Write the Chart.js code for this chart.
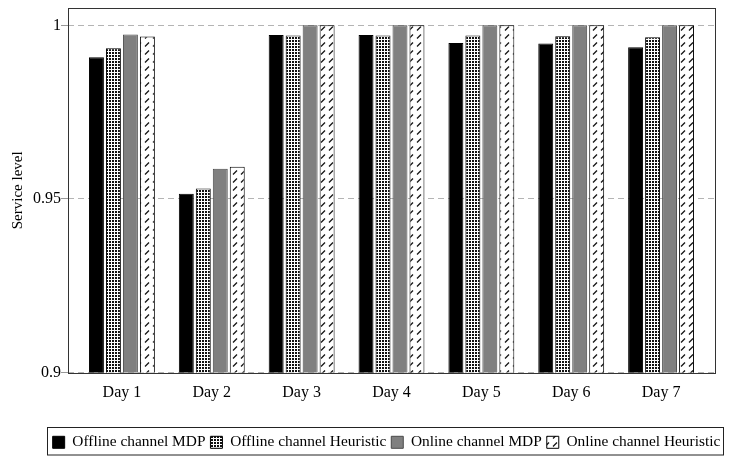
<!DOCTYPE html>
<html lang="en">
<head>
  <meta charset="UTF-8">
  <title>Service level</title>
  <style>
    html, body { margin: 0; padding: 0; background: #fff; }
    .grafico { width: 729px; height: 456px; }
  </style>
</head>
<body>
  <div class="grafico">
    <canvas id="myChart"></canvas>
  </div>
  <script src="https://cdn.jsdelivr.net/npm/chart.js"></script>
  <script>
    // data
    var dias = ['Day 1', 'Day 2', 'Day 3', 'Day 4', 'Day 5', 'Day 6', 'Day 7'];
    var offlineMDP = [0.9908, 0.9515, 0.9972, 0.9972, 0.9949, 0.9948, 0.9937];
    var offlineHeur = [0.9934, 0.9530, 0.9971, 0.9971, 0.9971, 0.9969, 0.9966];
    var onlineMDP = [0.9974, 0.9587, 1.0, 1.0, 1.0, 1.0, 1.0];
    var onlineHeur = [0.9968, 0.9593, 1.0, 1.0, 1.0, 1.0, 1.0];
    var yTicks = [0.9, 0.95, 1];

    function pontos(valores) {
      return valores.map(function (v, i) { return { x: i + 1, y: v }; });
    }

    // patterns
    function pontilhado() {
      var c = document.createElement('canvas');
      c.width = 3; c.height = 3;
      var g = c.getContext('2d');
      g.fillStyle = '#fff';
      g.fillRect(0, 0, 3, 3);
      g.fillStyle = '#111';
      g.fillRect(1, 1, 2, 2);
      return g.createPattern(c, 'repeat');
    }
    function listrado() {
      var c = document.createElement('canvas');
      c.width = 8; c.height = 8;
      var g = c.getContext('2d');
      g.fillStyle = '#fff';
      g.fillRect(0, 0, 8, 8);
      g.strokeStyle = '#111';
      g.lineWidth = 1.3;
      g.beginPath();
      g.moveTo(1, 6.5);
      g.lineTo(5, 2.5);
      g.stroke();
      return g.createPattern(c, 'repeat');
    }

    var serif = 'Liberation Serif';

    var molduras = {
      id: 'molduras',
      afterLayout: function (chart) {
        var lg = chart.legend;
        lg.left += 29;
        lg.right += 29;
        lg.top += 4;
        lg.bottom += 4;
      },
      afterDraw: function (chart) {
        var ctx = chart.ctx;
        var a = chart.chartArea;
        ctx.save();
        ctx.strokeStyle = '#333';
        ctx.lineWidth = 1;
        ctx.strokeRect(Math.round(a.left) + 0.5, Math.round(a.top) + 0.5,
          Math.round(a.right - a.left), Math.round(a.bottom - a.top));
        var boxes = chart.legend.legendHitBoxes;
        if (boxes && boxes.length) {
          var l = boxes[0].left, r = boxes[0].left + boxes[0].width;
          boxes.forEach(function (b) {
            l = Math.min(l, b.left);
            r = Math.max(r, b.left + b.width);
          });
          var topo = Math.round(chart.legend.top) - 2.5;
          ctx.strokeStyle = '#222';
          ctx.strokeRect(Math.round(l) - 5.5, topo, Math.round(r - l) + 8, 455 - topo);
        }
        ctx.restore();
      }
    };

    var ctx = document.getElementById('myChart');
    new Chart(ctx, {
      type: 'bar',
      data: {
        datasets: [{
          label: 'Offline channel MDP',
          data: pontos(offlineMDP),
          backgroundColor: '#000',
          borderColor: '#000',
          borderWidth: 1
        },
        {
          label: 'Offline channel Heuristic',
          data: pontos(offlineHeur),
          backgroundColor: pontilhado(),
          borderColor: '#000',
          borderWidth: 1
        },
        {
          label: 'Online channel MDP',
          data: pontos(onlineMDP),
          backgroundColor: '#808080',
          borderColor: '#4a4a4a',
          borderWidth: 1
        },
        {
          label: 'Online channel Heuristic',
          data: pontos(onlineHeur),
          backgroundColor: listrado(),
          borderColor: '#000',
          borderWidth: 1
        }]
      },
      options: {
        responsive: true,
        maintainAspectRatio: false,
        animation: false,
        categoryPercentage: 0.756,
        barPercentage: 0.88,
        layout: { padding: { top: 0, right: 14, left: 0, bottom: 0 } },
        plugins: {
          tooltip: { enabled: false },
          legend: {
            position: 'bottom',
            labels: {
              boxWidth: 12,
              boxHeight: 12,
              padding: 5,
              color: '#000',
              font: { family: serif, size: 15.4 }
            }
          }
        },
        scales: {
          x: {
            type: 'linear',
            offset: false,
            min: 0.4,
            max: 7.6,
            afterBuildTicks: function (scale) {
              scale.ticks = dias.map(function (d, i) { return { value: i + 1 }; });
            },
            afterFit: function (scale) { scale.height = 53; },
            grid: { display: false, drawTicks: false },
            border: { display: false },
            ticks: {
              padding: 11,
              color: '#000',
              font: { family: serif, size: 16 },
              callback: function (v) { return dias[v - 1]; }
            }
          },
          y: {
            min: 0.9,
            max: 1.005,
            afterBuildTicks: function (scale) {
              scale.ticks = yTicks.map(function (v) { return { value: v }; });
            },
            afterFit: function (scale) { scale.width = 68; },
            grid: { color: '#b4b4b4', tickColor: '#999', tickLength: 7 },
            border: { display: false, dash: [6, 4] },
            ticks: {
              padding: 0,
              color: '#000',
              font: { family: serif, size: 16, lineHeight: 1.0 },
              callback: function (v) { return String(v); }
            },
            title: {
              display: true,
              text: 'Service level',
              color: '#000',
              padding: { top: 9 },
              font: { family: serif, size: 15 }
            }
          }
        }
      },
      plugins: [molduras]
    });
  </script>
</body>
</html>
